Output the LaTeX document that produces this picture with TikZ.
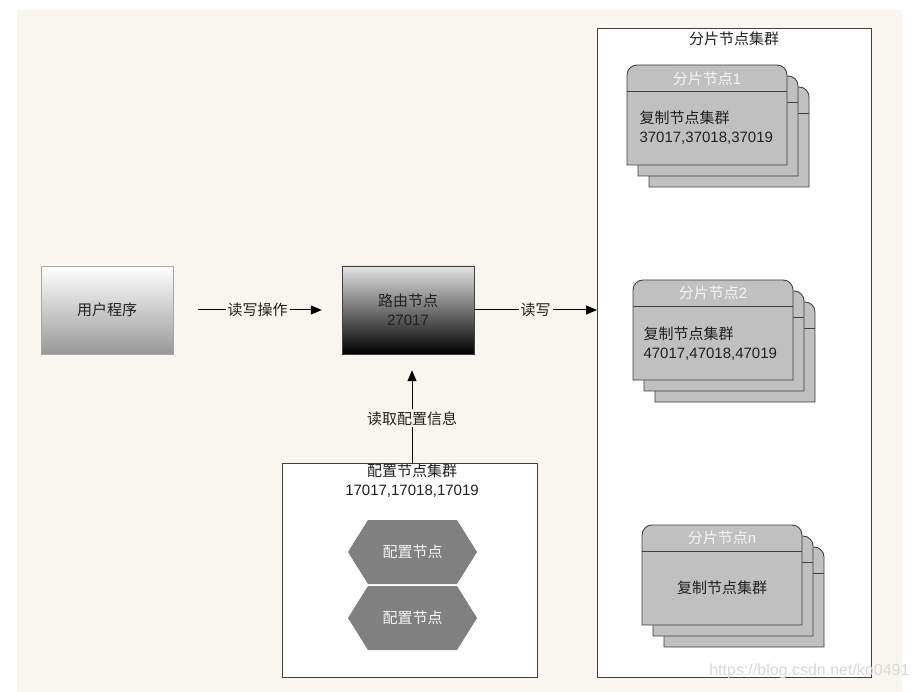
\documentclass[tikz,border=0pt]{standalone}
\usepackage{fontspec}
\setmainfont{Noto Sans CJK SC}
\newfontfamily\numfont{Liberation Sans}
\usetikzlibrary{arrows.meta}
\definecolor{bgbeige}{HTML}{F9F6F0}
\definecolor{cardfill}{HTML}{C0C0C0}
\definecolor{cardline}{HTML}{404040}
\definecolor{hexfill}{HTML}{808080}
\definecolor{lighttext}{HTML}{F4F4F4}
\definecolor{darktext}{HTML}{202020}
\tikzset{
  clusterbox/.style={draw=cardline, fill=white, line width=0.9pt, inner sep=0pt},
  arr/.style={-{Triangle[length=11pt,width=9pt]}, line width=1pt, black},
  lbl/.style={fill=bgbeige, inner sep=2pt, text=darktext},
  cardbody/.style={fill=cardfill, draw=cardline, line width=0.9pt},
  cardsep/.style={draw=cardline, line width=0.9pt},
  headtext/.style={text=lighttext},
  hexshape/.style={fill=hexfill},
}
\newcommand\shardcard[2]{%
  \foreach \d in {22,11,0} {
    \filldraw[cardbody] ({#1+\d},{#2+\d+100}) [rounded corners=10pt] -- ({#1+\d},{#2+\d}) -- ({#1+\d+160},{#2+\d}) [sharp corners] -- ({#1+\d+160},{#2+\d+100}) -- cycle;
    \draw[cardsep] ({#1+\d},{#2+\d+26}) -- ({#1+\d+160},{#2+\d+26});
  }%
}
\begin{document}
\begin{tikzpicture}[x=1pt,y=-1pt, font=\fontsize{15}{19}\selectfont]
\useasboundingbox (0,0) rectangle (920,692);
\fill[white] (0,0) rectangle (920,692);
\fill[bgbeige] (17,10) rectangle (902,692);

% shard cluster
\node[clusterbox, anchor=north west, minimum width=274, minimum height=649] (shard) at (597,28) {};
\node[text=darktext] (shardtitle) at (734,39) {分片节点集群};

\shardcard{627}{65}
\node[headtext] (h1) at (707,79) {分片节点{\numfont 1}};
\node[anchor=west, align=left, text=darktext] (b1) at (636,128) {复制节点集群\\{\numfont 37017,37018,37019}};

\shardcard{633}{280}
\node[headtext] (h2) at (713,293) {分片节点{\numfont 2}};
\node[anchor=west, align=left, text=darktext] (b2) at (640,344) {复制节点集群\\{\numfont 47017,47018,47019}};

\shardcard{642}{525}
\node[headtext] (hn) at (722,538) {分片节点{\numfont n}};
\node[text=darktext] (bn) at (722,588) {复制节点集群};

% user program
\node[draw=gray!70, top color=white, bottom color=gray!85!black!70, minimum width=132, minimum height=88, text=darktext] (user) at (107,310) {用户程序};
% router
\node[draw=cardline, top color=gray!22, bottom color=black, minimum width=132, minimum height=88, align=center, text=darktext] (router) at (408,310) {路由节点\\{\numfont 27017}};

% config cluster
\node[clusterbox, anchor=north west, minimum width=255, minimum height=214] (cfg) at (282,463) {};
\node[align=center, text=darktext] (cfgtitle) at (412,481) {配置节点集群\\{\numfont 17017,17018,17019}};

\fill[hexshape] (348,552) -- (368,520) -- (457,520) -- (477,552) -- (457,584) -- (368,584) -- cycle;
\node[headtext] (c1) at (412.5,552) {配置节点};
\fill[hexshape] (348,618) -- (368,586) -- (457,586) -- (477,618) -- (457,650) -- (368,650) -- cycle;
\node[headtext] (c2) at (412.5,618) {配置节点};

% connectors
\draw[arr, shorten <=25pt, shorten >=20pt] (user) -- (router) node[lbl, midway] {读写操作};
\draw[arr] (router.east) -- (router.east -| shard.west) node[lbl, midway] {读写};
\draw[arr, shorten >=16pt] (cfg.north -| 412,0) -- (router.south -| 412,0) node[lbl, pos=0.41] {读取配置信息};

% watermark
\node[anchor=east, text=gray!30, font=\numfont\fontsize{16}{18}\selectfont] (wm) at (913,671) {https://blog.csdn.net/ko0491};
\end{tikzpicture}
\end{document}
